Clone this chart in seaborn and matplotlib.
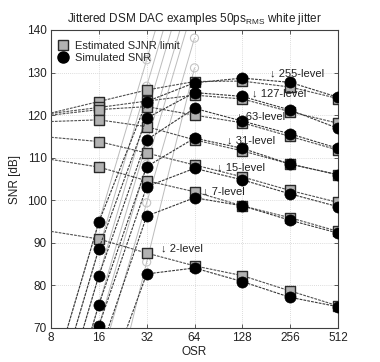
import numpy as np
import pandas as pd
import matplotlib
matplotlib.use("Agg")
import matplotlib.pyplot as plt
import seaborn as sns
from matplotlib.lines import Line2D

# ---------------- data ----------------
osr = [8, 16, 32, 64, 128, 256, 512]
levels = ["255", "127", "63", "31", "15", "7", "2"]

# Estimated SJNR limit (squares), at osr 8..512
sjnr_255 = [120.5, 123.2, 125.9, 127.9, 128.0, 126.6, 123.9]
sjnr_127 = [120.4, 121.8, 123.3, 124.7, 123.8, 120.8, 118.1]
sjnr_63 = [120.0, 121.3, 122.0, 120.0, 118.2, 115.0, 111.8]
sjnr_31 = [118.5, 118.9, 117.3, 114.2, 111.6, 108.5, 106.0]
sjnr_15 = [114.8, 113.8, 111.1, 108.3, 105.5, 102.3, 99.5]
sjnr_7 = [109.6, 107.8, 104.6, 102.0, 98.7, 95.9, 92.7]
sjnr_2 = [92.7, 90.9, 87.6, 84.6, 82.3, 78.7, 75.2]

# Simulated SNR (circles), at osr 8..512 (values below 70 dB fall off the chart)
snr_255 = [57.0, 94.9, 123.2, 127.6, 128.7, 127.7, 124.2]
snr_127 = [50.6, 88.6, 119.3, 125.3, 124.4, 121.2, 116.9]
snr_63 = [44.3, 82.3, 114.2, 121.6, 118.6, 115.6, 112.2]
snr_31 = [37.5, 75.5, 107.9, 114.6, 112.2, 108.5, 106.0]
snr_15 = [32.5, 70.5, 103.2, 107.5, 104.8, 101.5, 98.5]
snr_7 = [22.0, 63.5, 96.3, 100.6, 98.7, 95.3, 92.3]
snr_2 = [-7.0, 52.0, 82.7, 84.1, 80.9, 77.2, 75.0]

# Ideal SQNR (steep light lines), at osr 8..64
sqnr_osr = [8, 16, 32, 64]
sqnr_255 = [57.0, 94.9, 133.0, 171.0]
sqnr_127 = [50.6, 88.6, 126.8, 164.6]
sqnr_63 = [44.3, 82.3, 120.3, 158.3]
sqnr_31 = [37.5, 75.5, 113.5, 151.5]
sqnr_15 = [32.5, 70.5, 108.5, 146.5]
sqnr_7 = [22.0, 60.7, 99.4, 138.1]
sqnr_2 = [-7.0, 39.5, 85.5, 131.1]

xticks = [8, 16, 32, 64, 128, 256, 512]
yticks = [70, 80, 90, 100, 110, 120, 130, 140]

sjnr = [sjnr_255, sjnr_127, sjnr_63, sjnr_31, sjnr_15, sjnr_7, sjnr_2]
snr = [snr_255, snr_127, snr_63, snr_31, snr_15, snr_7, snr_2]
sqnr = [sqnr_255, sqnr_127, sqnr_63, sqnr_31, sqnr_15, sqnr_7, sqnr_2]

def long(xs, series):
    rows = []
    for lev, vals in zip(levels, series):
        for x, v in zip(xs, vals):
            rows.append({"osr": x, "val": v, "level": lev})
    return pd.DataFrame(rows)

df_sjnr = long(osr, sjnr)
df_snr = long(osr, snr)
df_sqnr = long(sqnr_osr, sqnr)

# ---------------- style ----------------
sns.set_theme(style="white")
plt.rcParams["font.family"] = ["Liberation Sans", "DejaVu Sans"]
plt.rcParams["mathtext.fontset"] = "custom"
plt.rcParams["mathtext.rm"] = "Liberation Sans"

fig = plt.figure(figsize=(3.8, 3.62), dpi=100)
ax = fig.add_axes([51 / 380, 1 - 328 / 362, 287 / 380, 298 / 362])

dash = (0, (2.5, 1.0))

# steep ideal SQNR lines (light)
sns.lineplot(data=df_sqnr, x="osr", y="val", units="level", estimator=None,
             color="#bcbcbc", lw=0.7, ax=ax, legend=False, zorder=2)
sq_in = df_sqnr[(df_sqnr.val > 70) & (df_sqnr.val < 140) & (df_sqnr.osr > 16)]
ax.scatter(sq_in.osr, sq_in.val, s=34, facecolors="none",
           edgecolors="#c4c4c4", linewidths=0.8, zorder=2)

n0 = len(ax.lines)
# SJNR lines
sns.lineplot(data=df_sjnr, x="osr", y="val", units="level", estimator=None,
             color="#505050", lw=0.8, ax=ax, legend=False, zorder=3)
# SNR lines
sns.lineplot(data=df_snr, x="osr", y="val", units="level", estimator=None,
             color="#383838", lw=0.8, ax=ax, legend=False, zorder=5)
for ln in ax.lines[n0:]:
    ln.set_linestyle(dash)

sq_m = df_sjnr[df_sjnr.osr >= 16]
sns.scatterplot(data=sq_m, x="osr", y="val", marker="s", s=46,
                color="#b2b2b2", edgecolor="#2a2a2a", linewidth=1.0,
                ax=ax, legend=False, zorder=4)
ci_m = df_snr[df_snr.osr >= 16]
sns.scatterplot(data=ci_m, x="osr", y="val", marker="o", s=64,
                color="black", edgecolor="black", linewidth=0.5,
                ax=ax, legend=False, zorder=6)

ax.set_xscale("log", base=2)
ax.set_xlim(8, 512)
ax.set_ylim(70, 140)
ax.set_xticks(xticks)
ax.set_xticklabels([str(t) for t in xticks])
ax.set_yticks(yticks)
ax.minorticks_off()
ax.grid(True, color="#d0d0d0", lw=0.6, ls=(0, (1, 1.5)))
for s in ax.spines.values():
    s.set_color("#404040")
    s.set_linewidth(0.8)
ax.tick_params(direction="in", length=3, width=0.6, color="#404040",
               labelsize=8.5, labelcolor="#222222", pad=3,
               top=True, right=True, bottom=True, left=True)
ax.set_xlabel("OSR", fontsize=8.5, color="#222222", labelpad=1)
ax.set_ylabel("SNR [dB]", fontsize=8.5, color="#222222", labelpad=4)
ax.set_title(r"Jittered DSM DAC examples 50ps$_{\mathrm{RMS}}$ white jitter",
             fontsize=8.5, color="#222222", pad=6)

handles = [
    Line2D([], [], ls="none", marker="s", ms=6.5, mfc="#b2b2b2", mec="#2a2a2a", mew=1.0),
    Line2D([], [], ls="none", marker="o", ms=8, mfc="black", mec="black"),
]
ax.legend(handles, ["Estimated SJNR limit", "Simulated SNR"], loc="upper left",
          bbox_to_anchor=(0.0, 0.985), frameon=False, fontsize=8,
          handlelength=1.0, handletextpad=0.6, labelspacing=0.2,
          borderaxespad=0.2)

# level labels
ann = [("255", 270, 73), ("127", 252, 93), ("63", 237, 116), ("31", 227, 140),
       ("15", 217, 167), ("7", 203, 191), ("2", 161, 248)]
for lev, px, py in ann:
    fig.text(px / 380, 1 - py / 362, "\u2193 " + lev + "-level", fontsize=8,
             color="#222222", va="center", ha="left",
             family=["Liberation Sans", "DejaVu Sans"])

fig.savefig("out.png", dpi=100, facecolor="white")
